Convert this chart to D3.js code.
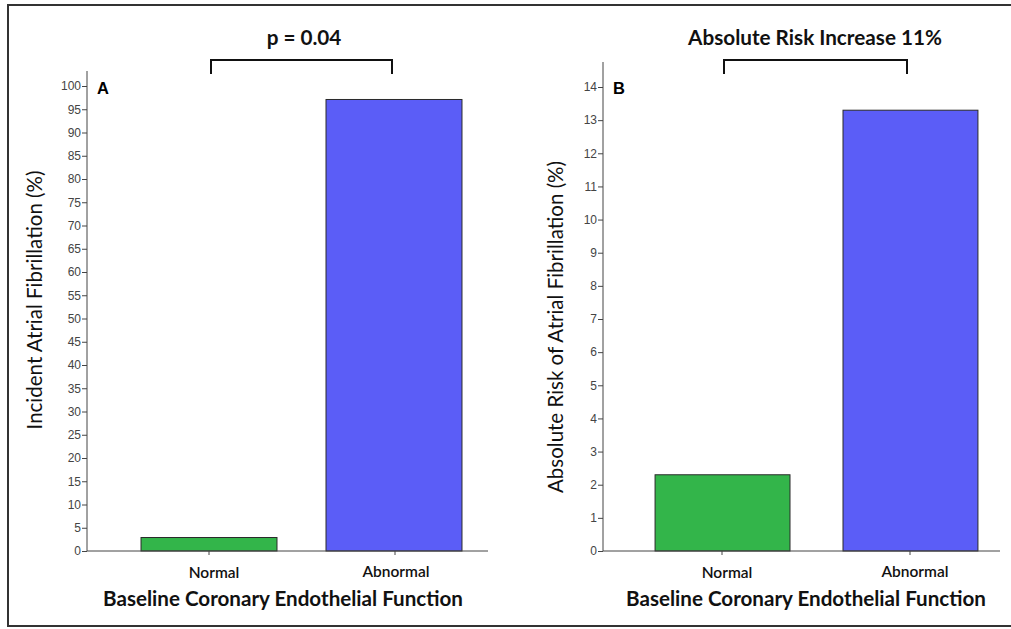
<!DOCTYPE html>
<html>
<head>
<meta charset="utf-8">
<script src="https://cdn.jsdelivr.net/npm/d3@7"></script>
<style>
  body { margin: 0; background: #fff; }
  .tick text { font-family: "Liberation Sans", Arial, sans-serif; font-size: 12px; fill: #444; }
  .axis path, .axis line { stroke: #444; }
  .lab { font-family: Lato, "Open Sans", sans-serif; fill: #111; }
</style>
</head>
<body>
<svg id="chart" width="1011" height="629"></svg>
<script>
const categories = ["Normal", "Abnormal"];
const valuesA = [2.9, 97.1];
const valuesB = [2.3, 13.3];
const ticksA = d3.range(0, 101, 5);
const ticksB = d3.range(0, 15, 1);
const colors = ["#33b54a", "#5b5df7"];

const $svg = d3.select('#chart');

// outer frame
$svg.append('rect')
    .attr('x', 8).attr('y', 5)
    .attr('width', 1010).attr('height', 621)
    .attr('fill', 'none').attr('stroke', '#333').attr('stroke-width', 2);

function drawPanel(opt) {
    const g = $svg.append('g');

    const y = d3.scaleLinear().domain(opt.domain).range([551, opt.top]);
    const x = d3.scaleBand().domain(categories)
        .range([opt.x0, opt.x1]).paddingInner(opt.padIn).paddingOuter(opt.padOut);

    // bars
    g.selectAll('rect.bar')
        .data(opt.values)
        .join('rect')
        .attr('class', 'bar')
        .attr('x', (d, i) => x(categories[i]))
        .attr('width', x.bandwidth())
        .attr('y', d => y(d))
        .attr('height', d => y(0) - y(d))
        .attr('fill', (d, i) => colors[i])
        .attr('stroke', '#2a2a2a').attr('stroke-width', 1);

    // y axis
    g.append('g')
        .attr('class', 'axis')
        .attr('transform', `translate(${opt.x0},0)`)
        .call(d3.axisLeft(y).tickValues(opt.ticks).tickSize(5).tickSizeOuter(0).tickPadding(1))
        .call(a => a.select('.domain').attr('d', `M0,${opt.axisTop}V551`));

    // x axis baseline with small ticks
    g.append('g')
        .attr('class', 'axis')
        .attr('transform', 'translate(0,551)')
        .call(d3.axisBottom(x).tickSize(4).tickSizeOuter(0).tickFormat(''))
        .call(a => a.select('.domain').attr('d', `M${opt.x0},0H${opt.xEnd}`))
        .call(a => a.selectAll('.tick').attr('transform', (d, i) => `translate(${opt.tickX[i]},0)`));

    categories.forEach((c, i) => {
        g.append('text').attr('class', 'lab')
            .attr('x', opt.labX[i]).attr('y', 578 - i)
            .attr('text-anchor', 'middle')
            .attr('font-size', 15.5).attr('font-weight', 600)
            .attr('fill', '#222')
            .text(c);
    });

    // x title
    g.append('text').attr('class', 'lab')
        .attr('x', opt.titleX).attr('y', 606)
        .attr('text-anchor', 'middle')
        .attr('font-size', 20.6).attr('font-weight', 700)
        .text('Baseline Coronary Endothelial Function');

    // y title
    g.append('text').attr('class', 'lab')
        .attr('transform', `translate(${opt.yLabX},${opt.yLabY}) rotate(-90)`)
        .attr('text-anchor', 'middle')
        .attr('font-size', 20.5)
        .text(opt.yLabel);

    // panel letter
    g.append('text')
        .attr('x', opt.x0 + 10).attr('y', 94)
        .attr('font-family', '"Liberation Sans", Arial, sans-serif')
        .attr('font-size', 16.5).attr('font-weight', 700)
        .text(opt.letter);

    // bracket + annotation
    const bx0 = opt.tickX[0] + 2, bx1 = opt.tickX[1] - 3;
    g.append('path')
        .attr('d', `M${bx0},74V60H${bx1}V74`)
        .attr('fill', 'none').attr('stroke', '#111').attr('stroke-width', 2);
    g.append('text').attr('class', 'lab')
        .attr('x', opt.noteX).attr('y', 45)
        .attr('text-anchor', 'middle')
        .attr('font-size', 20.7).attr('font-weight', 700)
        .text(opt.note);
}

drawPanel({
    values: valuesA, ticks: ticksA, domain: [0, 100], top: 86, axisTop: 71,
    x0: 87, x1: 516, padIn: 0.265, padOut: 0.292, xEnd: 488,
    tickX: [209, 395], labX: [214, 396], titleX: 283, noteX: 304, yLabX: 42, yLabY: 300,
    yLabel: 'Incident Atrial Fibrillation (%)', letter: 'A', note: 'p = 0.04'
});

drawPanel({
    values: valuesB, ticks: ticksB, domain: [0, 14], top: 87, axisTop: 62,
    x0: 603, x1: 1030, padIn: 0.282, padOut: 0.277, xEnd: 1000,
    tickX: [722, 910], labX: [727, 915], titleX: 806, noteX: 815, yLabX: 563, yLabY: 327,
    yLabel: 'Absolute Risk of Atrial Fibrillation (%)', letter: 'B', note: 'Absolute Risk Increase 11%'
});
</script>
</body>
</html>
